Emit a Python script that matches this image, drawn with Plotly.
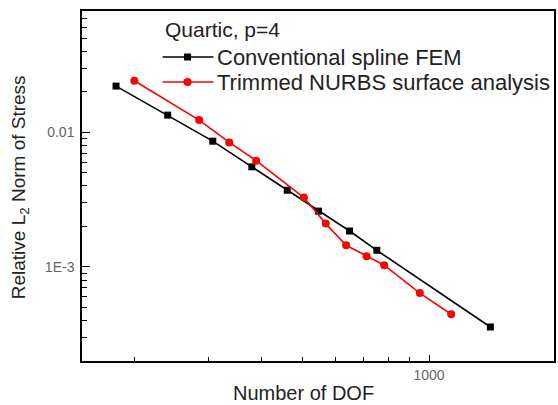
import plotly.graph_objects as go
import math

# ---- data ----
dof_fem = [181, 240, 307, 380, 461, 547, 648, 752, 1398]
err_fem = [0.0221, 0.01345, 0.00861, 0.00555, 0.00372, 0.00260, 0.00185, 0.00133, 0.000358]

dof_trim = [200, 285, 336, 389, 505, 569, 636, 711, 783, 951, 1129]
err_trim = [0.0242, 0.01235, 0.00842, 0.00617, 0.00328, 0.00210, 0.00145, 0.00120, 0.00103, 0.00064, 0.000445]

x_tickvals = [1000]
x_ticktext = ["1000"]
y_tickvals = [0.01, 0.001]
y_ticktext = ["0.01", "1E-3"]
x_minor = [200, 300, 400, 500, 600, 700, 800, 900]
y_minor = [2e-4, 3e-4, 4e-4, 5e-4, 6e-4, 7e-4, 8e-4, 9e-4,
           2e-3, 3e-3, 4e-3, 5e-3, 6e-3, 7e-3, 8e-3, 9e-3,
           2e-2, 3e-2, 4e-2, 5e-2, 6e-2, 7e-2]

name_fem = "Conventional spline FEM"
name_trim = "Trimmed NURBS surface analysis"
legend_title = "Quartic, p=4"

FONT = "Liberation Sans, Arial, sans-serif"
TXT = "#222222"
BLACK = "black"
RED = "#ff0000"

W, H = 558, 405
L, R, T, B = 82, 2, 11, 44
PW, PH = W - L - R, H - T - B


def px(xp):
    return (xp - L) / PW


def py(yp):
    return 1 - (yp - T) / PH


fig = go.Figure()
fig.add_trace(go.Scatter(
    x=dof_fem, y=err_fem, name=name_fem, mode="lines+markers",
    line=dict(color=BLACK, width=1.6),
    marker=dict(symbol="square", size=7, color=BLACK),
))
fig.add_trace(go.Scatter(
    x=dof_trim, y=err_trim, name=name_trim, mode="lines+markers",
    line=dict(color=RED, width=1.6),
    marker=dict(symbol="circle", size=8, color=RED),
))

axis_common = dict(
    type="log", showgrid=False, zeroline=False,
    showline=True, linecolor="black", linewidth=1.5, mirror=True,
    ticks="inside", tickcolor="black", tickwidth=1.3,
    tickfont=dict(family=FONT, size=14, color="#666666"),
    tickmode="array",
)

fig.update_xaxes(
    **axis_common,
    range=[math.log10(150.3), math.log10(1979)],
    tickvals=x_tickvals, ticktext=x_ticktext, ticklen=6,
    minor=dict(tickmode="array", tickvals=x_minor, ticks="inside",
               ticklen=4, tickcolor="black", tickwidth=1.3),
)
fig.update_yaxes(
    **axis_common,
    range=[math.log10(2e-4), math.log10(0.0799)],
    tickvals=y_tickvals, ticktext=y_ticktext, ticklen=8,
    ticklabelstandoff=3,
    minor=dict(tickmode="array", tickvals=y_minor, ticks="inside",
               ticklen=5, tickcolor="black", tickwidth=1.3),
)

# ---- hand-placed legend (keys + labels) ----
shapes = []
annotations = []
legend_rows = [(name_fem, BLACK, "rect", 57), (name_trim, RED, "circle", 82)]
for label, col, sym, yrow in legend_rows:
    shapes.append(dict(type="line", xref="paper", yref="paper",
                       x0=px(163), x1=px(214), y0=py(yrow), y1=py(yrow),
                       line=dict(color=col, width=1.6)))
    half = 3.5 if sym == "rect" else 4
    shapes.append(dict(type=sym, xref="paper", yref="paper",
                       xsizemode="pixel", ysizemode="pixel",
                       xanchor=px(188), yanchor=py(yrow),
                       x0=-half, x1=half, y0=-half, y1=half,
                       fillcolor=col, line=dict(color=col, width=0)))
    annotations.append(dict(text=label, xref="paper", yref="paper",
                            x=px(216), xanchor="left", y=py(yrow), yanchor="middle",
                            showarrow=False,
                            font=dict(family=FONT, size=22, color=TXT)))

annotations += [
    dict(text=legend_title, xref="paper", yref="paper",
         x=px(163), xanchor="left", y=py(30), yanchor="middle",
         showarrow=False, font=dict(family=FONT, size=21, color=TXT)),
    dict(text="Number of DOF", xref="paper", yref="paper",
         x=px(304), xanchor="center", y=py(393), yanchor="middle",
         showarrow=False, font=dict(family=FONT, size=20, color=TXT)),
    dict(text="Relative L<sub>2</sub> Norm of Stress", xref="paper", yref="paper",
         x=px(20), xanchor="center", y=py(187), yanchor="middle",
         textangle=-90,
         showarrow=False, font=dict(family=FONT, size=19, color=TXT)),
]

fig.update_layout(
    width=W, height=H,
    margin=dict(l=L, r=R, t=T, b=B, pad=0),
    paper_bgcolor="white", plot_bgcolor="white",
    font=dict(family=FONT, color=TXT),
    showlegend=False,
    shapes=shapes,
    annotations=annotations,
)

fig.write_html("out.html",
               config={"displayModeBar": False},
               post_script="document.body.style.margin='0';document.body.style.overflow='hidden';")
